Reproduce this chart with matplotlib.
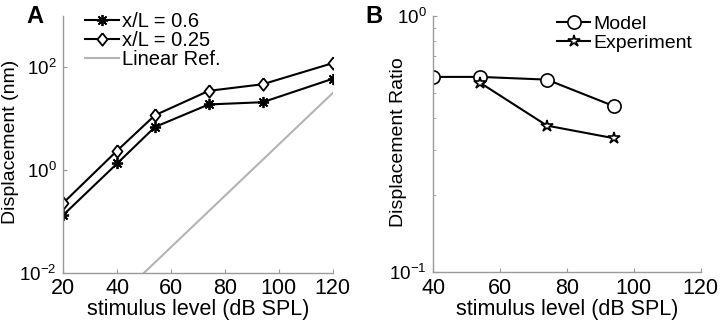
import matplotlib

matplotlib.use("Agg")

import matplotlib.pyplot as plt
from matplotlib.ticker import FixedLocator, LogLocator, NullFormatter, NullLocator

plt.rcParams["font.family"] = ["Liberation Sans", "DejaVu Sans"]
plt.rcParams["mathtext.fontset"] = "custom"
plt.rcParams["mathtext.rm"] = "Liberation Sans"
plt.rcParams["mathtext.default"] = "regular"

# panel A: displacement vs stimulus level
level_a = [20, 40, 54, 74, 94, 120]
disp_06 = [0.134, 1.35, 6.9, 19, 21, 60]
disp_025 = [0.23, 2.4, 11.7, 35, 47, 121]
ref_level = [20, 120]
ref_disp = [3.16e-4, 31.6]

# panel B: displacement ratio
level_model = [40, 54, 74, 94]
ratio_model = [0.58, 0.58, 0.566, 0.446]
level_exp = [54, 74, 94]
ratio_exp = [0.55, 0.374, 0.334]

FS_X = 15.5
FS_Y = 13.5
FS_LAB = 14
GRAY = "#9a9a9a"
DIAMOND = [(0, 1), (0.8, 0), (0, -1), (-0.8, 0), (0, 1)]

fig = plt.figure(figsize=(7.2, 3.22), dpi=100)
ax_a = fig.add_axes([0.088, 0.153, 0.374, 0.797])
ax_b = fig.add_axes([0.602, 0.155, 0.371, 0.794])


def style(ax):
    for side in ("top", "right"):
        ax.spines[side].set_visible(False)
    for side in ("left", "bottom"):
        ax.spines[side].set_color(GRAY)
        ax.spines[side].set_linewidth(1.0)
    ax.tick_params(which="both", direction="in", color=GRAY)
    ax.tick_params(axis="x", labelsize=FS_X, pad=4)
    ax.tick_params(axis="y", labelsize=FS_Y, pad=5)
    ax.tick_params(which="major", length=3)
    ax.tick_params(which="minor", length=2)


ax_a.plot(level_a, disp_06, "-", marker=(8, 2, 0), color="black", lw=1.5,
          ms=8, mew=1.3, label="x/L = 0.6")
ax_a.plot(level_a, disp_025, "-", marker=DIAMOND, color="black", lw=1.5,
          ms=9, mfc="white", mew=1.3, label="x/L = 0.25")
ax_a.plot(ref_level, ref_disp, "-", color="#b4b4b4", lw=1.5, label="Linear Ref.")
ax_a.set_yscale("log")
ax_a.set_xlim(20, 120)
ax_a.set_ylim(1e-2, 1e3)
ax_a.set_xticks([20, 40, 60, 80, 100, 120])
ax_a.yaxis.set_major_locator(FixedLocator([1e-2, 1e0, 1e2]))
ax_a.yaxis.set_minor_locator(NullLocator())
ax_a.set_yticklabels(["$10^{-2}$", "$10^{0}$", "$10^{2}$"])
ax_a.set_xlabel("stimulus level (dB SPL)", fontsize=FS_X, labelpad=0)
ax_a.set_ylabel("Displacement (nm)", fontsize=FS_LAB)
ax_a.yaxis.set_label_coords(-0.163, 0.51)
style(ax_a)
ax_a.legend(loc="upper left", bbox_to_anchor=(0.118, 0.962),
            bbox_transform=fig.transFigure, frameon=False, fontsize=14.5,
            handlelength=1.7, handletextpad=0.15, labelspacing=0.0,
            borderaxespad=0, borderpad=0)

ax_b.plot(level_model, ratio_model, "-o", color="black", lw=1.5, ms=9.5,
          mfc="white", mew=1.2, label="Model")
ax_b.plot(level_exp, ratio_exp, "-*", color="black", lw=1.5, ms=9,
          mfc="white", mew=1.2, label="Experiment")
ax_b.set_yscale("log")
ax_b.set_xlim(40, 120)
ax_b.set_ylim(0.1, 1.0)
ax_b.set_xticks([40, 60, 80, 100, 120])
ax_b.yaxis.set_major_locator(FixedLocator([0.1, 1.0]))
ax_b.set_yticklabels(["$10^{-1}$", "$10^{0}$"])
ax_b.yaxis.set_minor_locator(LogLocator(base=10, subs=range(2, 10)))
ax_b.yaxis.set_minor_formatter(NullFormatter())
ax_b.set_xlabel("stimulus level (dB SPL)", fontsize=FS_X, labelpad=0)
ax_b.set_ylabel("Displacement Ratio", fontsize=FS_LAB)
ax_b.yaxis.set_label_coords(-0.1, 0.51)
style(ax_b)
ax_b.legend(loc="upper left", bbox_to_anchor=(0.774, 0.952),
            bbox_transform=fig.transFigure, frameon=False, fontsize=FS_LAB,
            handlelength=1.7, handletextpad=0.15, labelspacing=0.05,
            borderaxespad=0, borderpad=0)

fig.text(0.037, 0.95, "A", fontsize=17, fontweight="bold", va="center")
fig.text(0.507, 0.95, "B", fontsize=17, fontweight="bold", va="center")

fig.savefig("out.png", dpi=100)
